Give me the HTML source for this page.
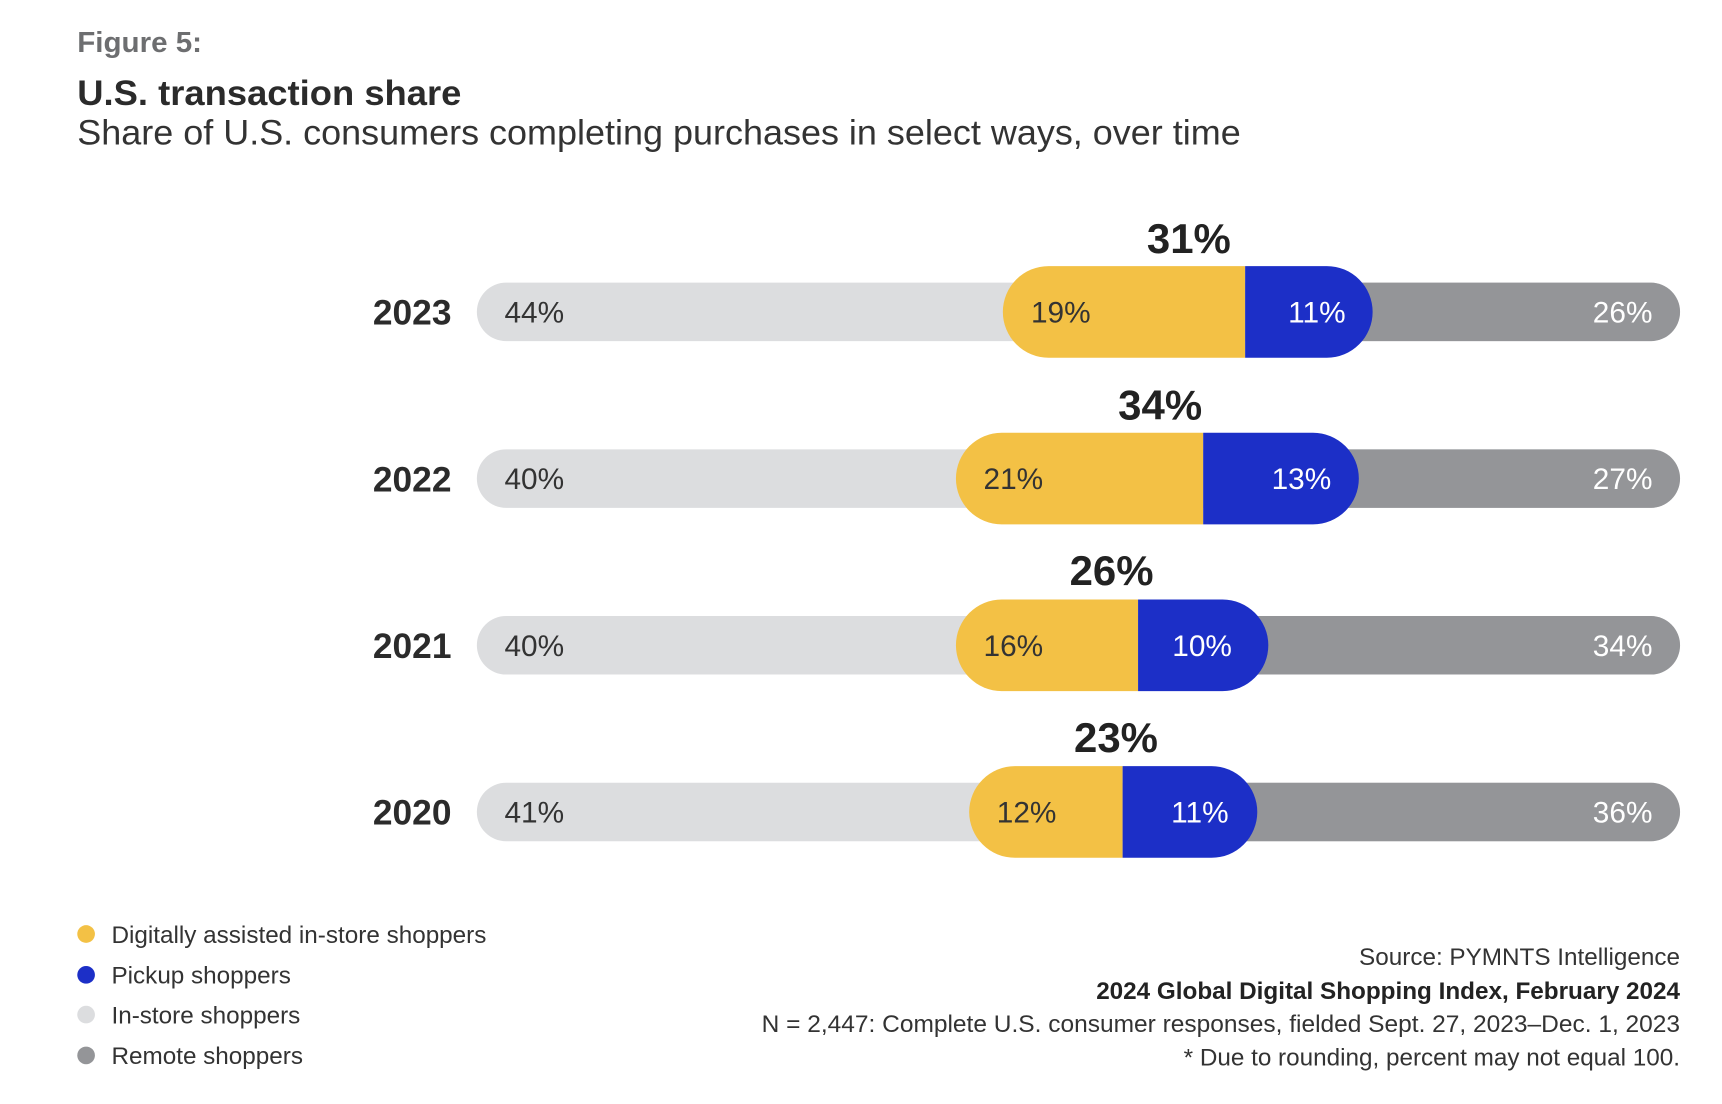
<!DOCTYPE html>
<html><head><meta charset="utf-8"><style>html,body{margin:0;padding:0;background:#fff}svg{display:block}</style></head><body>
<svg width="1722" height="1104" viewBox="0 0 1560 1000" preserveAspectRatio="none" xmlns="http://www.w3.org/2000/svg" font-family="Liberation Sans, sans-serif">
<text x="70" y="47" font-size="26" font-weight="bold" fill="#6d6e70" textLength="113" lengthAdjust="spacingAndGlyphs">Figure 5:</text>
<text x="70" y="95" font-size="32" font-weight="bold" fill="#2b2b2b" textLength="348" lengthAdjust="spacingAndGlyphs">U.S. transaction share</text>
<text x="70" y="131" font-size="32" fill="#333" textLength="1054" lengthAdjust="spacingAndGlyphs">Share of U.S. consumers completing purchases in select ways, over time</text>
<g id="rows">
<!-- row template: center cy -->
<g>
<rect x="432" y="256" width="1090" height="53" rx="26.5" fill="#dcdddf"/>
<rect x="1150" y="256" width="372" height="53" rx="26.5" fill="#949598"/>
<path d="M950 241 H1128 V324 H950 A41.5 41.5 0 0 1 950 241Z" fill="#f3c145"/>
<path d="M1128 241 H1202 A41.5 41.5 0 0 1 1202 324 H1128Z" fill="#1c2fc7"/>
<text x="409" y="294" font-size="32" font-weight="bold" fill="#2b2b2b" text-anchor="end">2023</text>
<text x="457" y="292" font-size="27" fill="#333">44%</text>
<text x="934" y="292" font-size="27" fill="#333">19%</text>
<text x="1219" y="292" font-size="27" fill="#fff" text-anchor="end">11%</text>
<text x="1497" y="292" font-size="27" fill="#fff" text-anchor="end">26%</text>
<text x="1077" y="229" font-size="38" font-weight="bold" fill="#222" text-anchor="middle">31%</text>
</g>
<g>
<rect x="432" y="407" width="1090" height="53" rx="26.5" fill="#dcdddf"/>
<rect x="1150" y="407" width="372" height="53" rx="26.5" fill="#949598"/>
<path d="M907.5 392 H1090 V475 H907.5 A41.5 41.5 0 0 1 907.5 392Z" fill="#f3c145"/>
<path d="M1090 392 H1189.5 A41.5 41.5 0 0 1 1189.5 475 H1090Z" fill="#1c2fc7"/>
<text x="409" y="445" font-size="32" font-weight="bold" fill="#2b2b2b" text-anchor="end">2022</text>
<text x="457" y="443" font-size="27" fill="#333">40%</text>
<text x="891" y="443" font-size="27" fill="#333">21%</text>
<text x="1206" y="443" font-size="27" fill="#fff" text-anchor="end">13%</text>
<text x="1497" y="443" font-size="27" fill="#fff" text-anchor="end">27%</text>
<text x="1051" y="380" font-size="38" font-weight="bold" fill="#222" text-anchor="middle">34%</text>
</g>
<g>
<rect x="432" y="558" width="1090" height="53" rx="26.5" fill="#dcdddf"/>
<rect x="1100" y="558" width="422" height="53" rx="26.5" fill="#949598"/>
<path d="M907.5 543 H1031 V626 H907.5 A41.5 41.5 0 0 1 907.5 543Z" fill="#f3c145"/>
<path d="M1031 543 H1107.5 A41.5 41.5 0 0 1 1107.5 626 H1031Z" fill="#1c2fc7"/>
<text x="409" y="596" font-size="32" font-weight="bold" fill="#2b2b2b" text-anchor="end">2021</text>
<text x="457" y="594" font-size="27" fill="#333">40%</text>
<text x="891" y="594" font-size="27" fill="#333">16%</text>
<text x="1116" y="594" font-size="27" fill="#fff" text-anchor="end">10%</text>
<text x="1497" y="594" font-size="27" fill="#fff" text-anchor="end">34%</text>
<text x="1007" y="530" font-size="38" font-weight="bold" fill="#222" text-anchor="middle">26%</text>
</g>
<g>
<rect x="432" y="709" width="1090" height="53" rx="26.5" fill="#dcdddf"/>
<rect x="1090" y="709" width="432" height="53" rx="26.5" fill="#949598"/>
<path d="M919.5 694 H1017 V777 H919.5 A41.5 41.5 0 0 1 919.5 694Z" fill="#f3c145"/>
<path d="M1017 694 H1097.5 A41.5 41.5 0 0 1 1097.5 777 H1017Z" fill="#1c2fc7"/>
<text x="409" y="747" font-size="32" font-weight="bold" fill="#2b2b2b" text-anchor="end">2020</text>
<text x="457" y="745" font-size="27" fill="#333">41%</text>
<text x="903" y="745" font-size="27" fill="#333">12%</text>
<text x="1113" y="745" font-size="27" fill="#fff" text-anchor="end">11%</text>
<text x="1497" y="745" font-size="27" fill="#fff" text-anchor="end">36%</text>
<text x="1011" y="681" font-size="38" font-weight="bold" fill="#222" text-anchor="middle">23%</text>
</g>
</g>
<circle cx="78" cy="846" r="8" fill="#f3c145"/>
<circle cx="78" cy="883" r="8" fill="#1c2fc7"/>
<circle cx="78" cy="919" r="8" fill="#dcdddf"/>
<circle cx="78" cy="956" r="8" fill="#949598"/>
<g font-size="22" fill="#333">
<text x="101" y="854">Digitally assisted in-store shoppers</text>
<text x="101" y="891">Pickup shoppers</text>
<text x="101" y="927">In-store shoppers</text>
<text x="101" y="964">Remote shoppers</text>
</g>
<g font-size="22" fill="#333" text-anchor="end">
<text x="1522" y="874">Source: PYMNTS Intelligence</text>
<text x="1522" y="905" font-weight="bold" fill="#222">2024 Global Digital Shopping Index, February 2024</text>
<text x="1522" y="935" textLength="832" lengthAdjust="spacingAndGlyphs">N = 2,447: Complete U.S. consumer responses, fielded Sept. 27, 2023–Dec. 1, 2023</text>
<text x="1522" y="965">* Due to rounding, percent may not equal 100.</text>
</g>
</svg>
</body></html>
